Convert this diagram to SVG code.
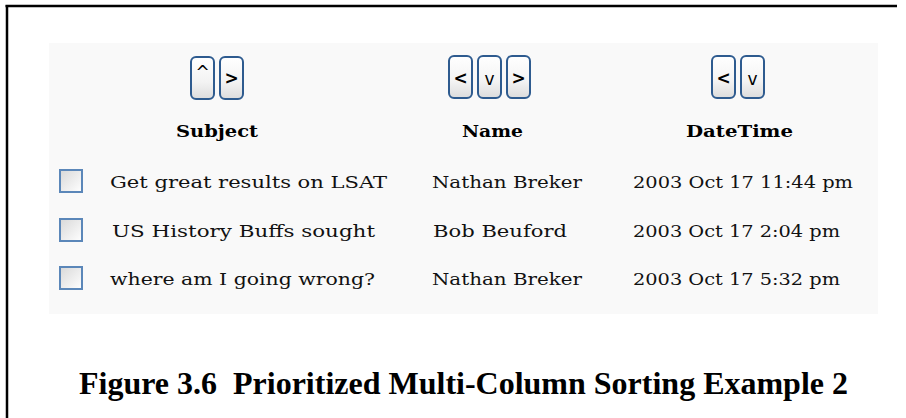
<svg xmlns="http://www.w3.org/2000/svg" width="906" height="418" viewBox="0 0 906 418">
  <defs>
    <linearGradient id="btnGrad" x1="0" y1="0" x2="0" y2="1">
      <stop offset="0" stop-color="#ffffff"/>
      <stop offset="0.6" stop-color="#f3f3f3"/>
      <stop offset="1" stop-color="#dcdcdc"/>
    </linearGradient>
    <linearGradient id="chkGrad" x1="0" y1="0" x2="1" y2="1">
      <stop offset="0" stop-color="#d8d8d8"/>
      <stop offset="1" stop-color="#ffffff"/>
    </linearGradient>
  </defs>
  <style>
    .btn { fill: url(#btnGrad); stroke: #2e5b8f; stroke-width: 2; }
    .chk { fill: url(#chkGrad); stroke: #5b87b9; stroke-width: 2; }
    .glyph { font-family: "DejaVu Sans", sans-serif; font-size: 17px; fill: #000; text-anchor: middle; }
    .bold { font-weight: bold; }
    .hdr { font-family: "DejaVu Serif", "Liberation Serif", serif; font-weight: bold; font-size: 16.5px; fill: #000; }
    .cell { font-family: "DejaVu Serif", "Liberation Serif", serif; font-size: 17px; fill: #111; }
    .cap { font-family: "Liberation Serif", "Times New Roman", serif; font-weight: bold; font-size: 32px; fill: #000; }
  </style>
  <rect width="906" height="418" fill="#ffffff"/>
  <g id="frame" fill="none" stroke="#000" stroke-width="2.5">
    <line x1="5.5" y1="6" x2="897" y2="6"/>
    <line x1="7" y1="5" x2="7" y2="418"/>
  </g>
  <rect id="panel" x="49" y="43" width="829" height="271" fill="#f9f9f9"/>

  <g id="subject-header">
    <rect class="btn" x="191" y="57" width="23" height="42" rx="5"/>
    <text class="glyph" x="202.5" y="78">^</text>
    <rect class="btn" x="220" y="57" width="23" height="42" rx="5"/>
    <text class="glyph bold" x="231.5" y="84">&gt;</text>
    <text class="hdr" x="176" y="137" textLength="82" lengthAdjust="spacingAndGlyphs">Subject</text>
  </g>
  <g id="name-header">
    <rect class="btn" x="449" y="56" width="23" height="42" rx="5"/>
    <text class="glyph bold" x="460.5" y="84">&lt;</text>
    <rect class="btn" x="478" y="56" width="23" height="42" rx="5"/>
    <text class="glyph" x="489.5" y="85">v</text>
    <rect class="btn" x="507" y="56" width="23" height="42" rx="5"/>
    <text class="glyph bold" x="518.5" y="84">&gt;</text>
    <text class="hdr" x="462" y="137" textLength="61" lengthAdjust="spacingAndGlyphs">Name</text>
  </g>
  <g id="datetime-header">
    <rect class="btn" x="712" y="56" width="23" height="42" rx="5"/>
    <text class="glyph bold" x="723.5" y="84">&lt;</text>
    <rect class="btn" x="741" y="56" width="23" height="42" rx="5"/>
    <text class="glyph" x="752.5" y="85">v</text>
    <text class="hdr" x="686" y="137" textLength="107" lengthAdjust="spacingAndGlyphs">DateTime</text>
  </g>

  <g id="row1">
    <rect class="chk" x="60" y="170" width="22" height="22"/>
    <text class="cell" x="110" y="188" textLength="277" lengthAdjust="spacingAndGlyphs">Get great results on LSAT</text>
    <text class="cell" x="432" y="188" textLength="150" lengthAdjust="spacingAndGlyphs">Nathan Breker</text>
    <text class="cell" x="633" y="188" textLength="220" lengthAdjust="spacingAndGlyphs">2003 Oct 17 11:44 pm</text>
  </g>
  <g id="row2">
    <rect class="chk" x="60" y="219" width="22" height="22"/>
    <text class="cell" x="112" y="237" textLength="263" lengthAdjust="spacingAndGlyphs">US History Buffs sought</text>
    <text class="cell" x="433" y="237" textLength="134" lengthAdjust="spacingAndGlyphs">Bob Beuford</text>
    <text class="cell" x="633" y="237" textLength="207" lengthAdjust="spacingAndGlyphs">2003 Oct 17 2:04 pm</text>
  </g>
  <g id="row3">
    <rect class="chk" x="60" y="267" width="22" height="22"/>
    <text class="cell" x="110" y="285" textLength="265" lengthAdjust="spacingAndGlyphs">where am I going wrong?</text>
    <text class="cell" x="432" y="285" textLength="150" lengthAdjust="spacingAndGlyphs">Nathan Breker</text>
    <text class="cell" x="633" y="285" textLength="207" lengthAdjust="spacingAndGlyphs">2003 Oct 17 5:32 pm</text>
  </g>

  <g id="connectors"></g>

  <text id="caption" class="cap" x="79" y="394" textLength="769" lengthAdjust="spacingAndGlyphs" xml:space="preserve">Figure 3.6  Prioritized Multi-Column Sorting Example 2</text>
</svg>
